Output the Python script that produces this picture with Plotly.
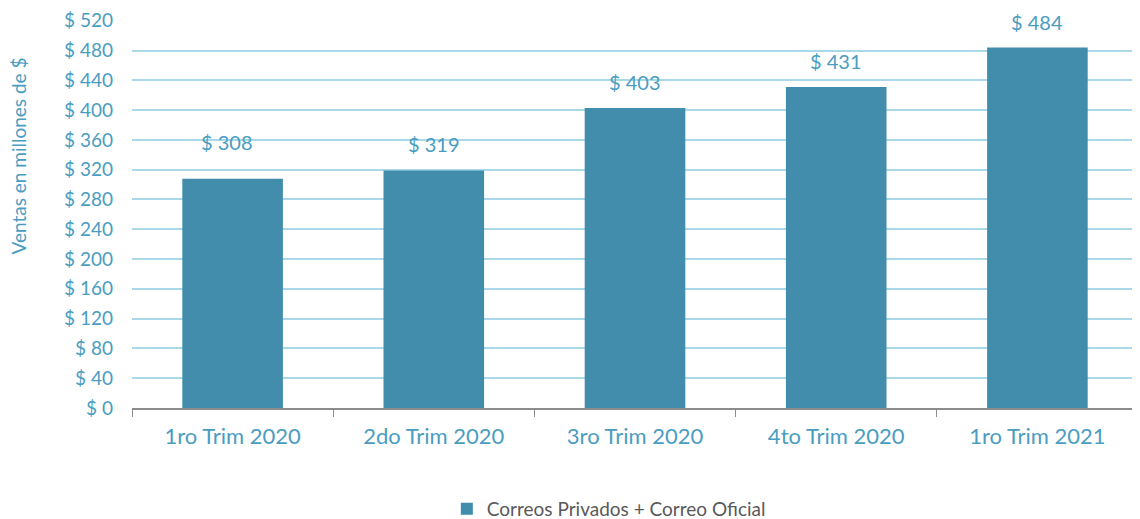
import plotly.graph_objects as go

categories = ["1ro Trim 2020", "2do Trim 2020", "3ro Trim 2020", "4to Trim 2020", "1ro Trim 2021"]
values = [308, 319, 403, 431, 484]
series_name = "Correos Privados + Correo Oficial"
y_title = "Ventas en millones de $"

# label placement offsets (pixels) - styling only
label_yshift = [37, 26, 26, 26, 26]
label_xshift = [-6, 0, 0, 0, 0]

BAR = "#428DAC"
TXT = "#4A9DC1"
GRID = "#A9D9E8"
FONT = "Lato"

fig = go.Figure()
fig.add_trace(go.Bar(
    x=categories, y=values, name=series_name,
    marker=dict(color=BAR, line=dict(width=0)),
    width=0.5, showlegend=True,
))

for c, v, dy, dx in zip(categories, values, label_yshift, label_xshift):
    fig.add_annotation(x=c, y=v, text=f"$ {v}", showarrow=False,
                       yshift=dy, xshift=dx,
                       font=dict(family=FONT, size=20, color=TXT))

# y-axis title (placed as rotated text, as in the reference it sits above centre)
fig.add_annotation(xref="paper", yref="paper", x=-0.113, y=0.649,
                   xanchor="center", yanchor="middle", textangle=-90,
                   text=y_title, showarrow=False,
                   font=dict(family=FONT, size=19, color=TXT))

# page body has an 8px margin; figure sized so the plot lands where the reference has it
fig.update_layout(
    width=1132, height=527,
    margin=dict(l=124, r=2, t=12, b=127),
    plot_bgcolor="white", paper_bgcolor="white",
    font=dict(family=FONT, color=TXT),
    showlegend=True,
    legend=dict(orientation="h", x=0.474, xanchor="center", xref="paper",
                y=-0.211, yanchor="top",
                font=dict(family=FONT, size=19, color="#595959")),
    bargap=0.5,
)
fig.update_xaxes(
    automargin=False,
    showline=True, linecolor="#8C8C8C", linewidth=1.5,
    ticks="outside", tickson="boundaries", ticklen=7, tickcolor="#8C8C8C",
    tickfont=dict(family=FONT, size=22, color=TXT),
    ticklabelstandoff=8,
    showgrid=False,
)
fig.update_yaxes(
    automargin=False,
    range=[0, 521], dtick=40, tick0=0, tickprefix="$ ",
    showgrid=True, gridcolor=GRID, gridwidth=1.5,
    zeroline=False, showline=False,
    tickfont=dict(family=FONT, size=19, color=TXT),
    ticklabelstandoff=18,
)

fig.write_html("out.html")
